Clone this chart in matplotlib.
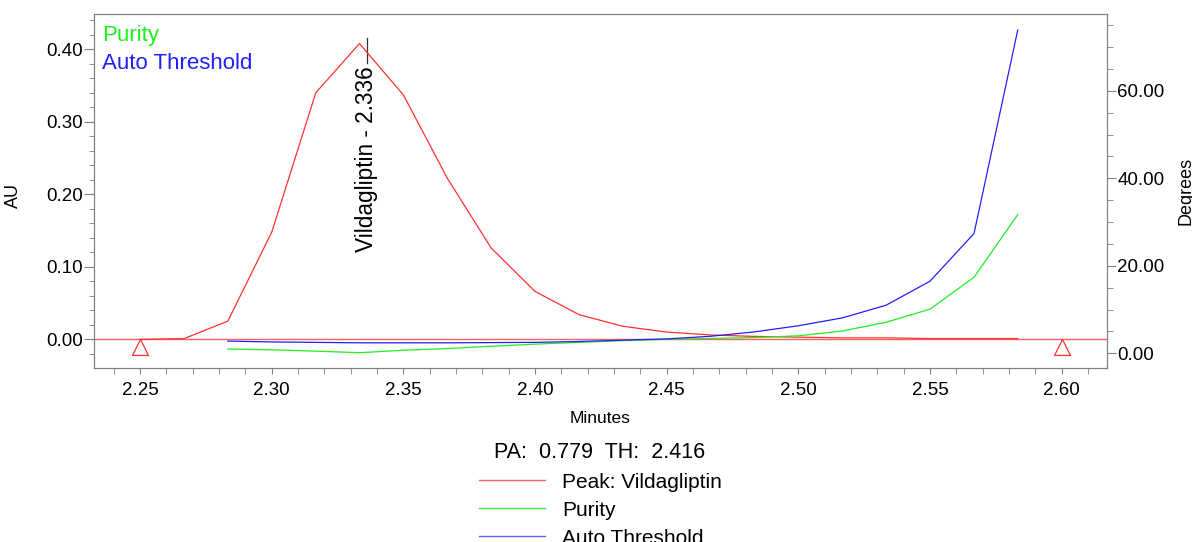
import matplotlib.pyplot as plt
from matplotlib.ticker import MultipleLocator, FormatStrFormatter

plt.rcParams['font.family'] = ['Liberation Sans', 'DejaVu Sans']

# sample times (minutes)
minutes = [2.25, 2.2667, 2.2833, 2.30, 2.3167, 2.3333, 2.35, 2.3667, 2.3833, 2.40,
           2.4167, 2.4333, 2.45, 2.4667, 2.4833, 2.50, 2.5167, 2.5333, 2.55,
           2.5667, 2.5833]
peak_au = [0.000, 0.001, 0.025, 0.148, 0.340, 0.408, 0.337, 0.222, 0.126, 0.066,
           0.034, 0.018, 0.010, 0.006, 0.004, 0.003, 0.002, 0.002, 0.001,
           0.001, 0.001]

# purity / threshold start at 2.2833
angle_times = minutes[2:]
purity_deg = [0.98, 0.80, 0.50, 0.14, 0.70, 1.10, 1.60, 2.10, 2.50, 2.90, 3.20,
              3.40, 3.60, 4.00, 5.10, 7.10, 10.1, 17.4, 31.7]
threshold_deg = [2.8, 2.6, 2.5, 2.4, 2.4, 2.4, 2.45, 2.5, 2.7, 3.0, 3.3, 3.9,
                 4.9, 6.3, 8.1, 11.0, 16.5, 27.4, 73.9]

peak_name = 'Vildagliptin'
peak_rt = 2.336
peak_start, peak_end = 2.25, 2.60
pa_value, th_value = 0.779, 2.416

fig = plt.figure(figsize=(11.92, 5.42), dpi=100)
ax = fig.add_axes([0.0789, 0.321, 0.8498, 0.6531])
ax2 = ax.twinx()

ax.axhline(0, color='#ff6060', lw=1.0, zorder=1)
ax.plot(minutes, peak_au, color='#ff3030', lw=0.9, zorder=3)
ax2.plot(angle_times, purity_deg, color='#20ee20', lw=0.9)
ax2.plot(angle_times, threshold_deg, color='#2020ff', lw=0.9)

# start / end markers (open triangles with apex on baseline)
tri = [(0, 0), (-1, -2), (1, -2), (0, 0)]
ax.plot([peak_start, peak_end], [0, 0], ls='none', marker=tri, ms=23,
        mfc='none', mec='#ff3030', mew=0.9, zorder=4)

# peak label
ax.plot([peak_rt, peak_rt], [0.381, 0.4156], color='#333333', lw=0.9)
ax.text(peak_rt, 0.377, peak_name + ' - ' + format(peak_rt, '.3f'), rotation=90,
        ha='center', va='top', fontsize=16.3)

ax.set_xlim(2.2325, 2.6172)
ax.set_ylim(-0.0396, 0.4487)
ax2.set_ylim(-3.36, 77.56)

ax.xaxis.set_major_locator(MultipleLocator(0.05))
ax.xaxis.set_minor_locator(MultipleLocator(0.01))
ax.xaxis.set_major_formatter(FormatStrFormatter('%.2f'))
ax.yaxis.set_major_locator(MultipleLocator(0.1))
ax.yaxis.set_minor_locator(MultipleLocator(0.02))
ax.yaxis.set_major_formatter(FormatStrFormatter('%.2f'))
ax2.yaxis.set_major_locator(MultipleLocator(20))
ax2.yaxis.set_minor_locator(MultipleLocator(5))
ax2.yaxis.set_major_formatter(FormatStrFormatter('%.2f'))

for a in (ax, ax2):
    for s in a.spines.values():
        s.set_color('#808080')
ax.tick_params(axis='x', which='both', length=4.3, color='#808080', labelsize=13.5, pad=6)
ax.tick_params(axis='y', which='major', length=7.2, color='#808080', labelsize=13.5, pad=1)
ax.tick_params(axis='y', which='minor', length=3.6, color='#808080')
ax2.tick_params(axis='y', which='major', length=6.5, color='#808080', labelsize=13.5, pad=1)
ax2.tick_params(axis='y', which='minor', length=4.3, color='#808080')

ax.set_xlabel('Minutes', fontsize=12.5)
ax.xaxis.set_label_coords(0.5, -0.121)
ax.set_ylabel('AU', fontsize=13)
ax.yaxis.set_label_coords(-0.071, 0.486)
ax2.set_ylabel('Degrees', fontsize=13)
ax2.yaxis.set_label_coords(1.070, 0.5)

ax.text(0.008, 0.97, 'Purity', transform=ax.transAxes, color='#20ee20',
        fontsize=16, va='top')
ax.text(0.008, 0.89, 'Auto Threshold', transform=ax.transAxes, color='#2020ff',
        fontsize=16, va='top')

# footer: PA / TH and line key
fig.text(0.503, 0.166, 'PA:  %.3f  TH:  %.3f' % (pa_value, th_value),
         ha='center', va='center', fontsize=15.5)
key = [('Peak: ' + peak_name, '#ff6060'), ('Purity', '#40ee40'),
       ('Auto Threshold', '#6060ff')]
for i, (lab, col) in enumerate(key):
    yk = 1 - (480 + i * 28) / 542
    fig.add_artist(plt.Line2D([479 / 1192, 545 / 1192], [yk, yk], color=col, lw=1.0))
    fig.text(562 / 1192, yk - 0.004, lab, va='center', fontsize=15)

fig.savefig('out.png', dpi=100)
